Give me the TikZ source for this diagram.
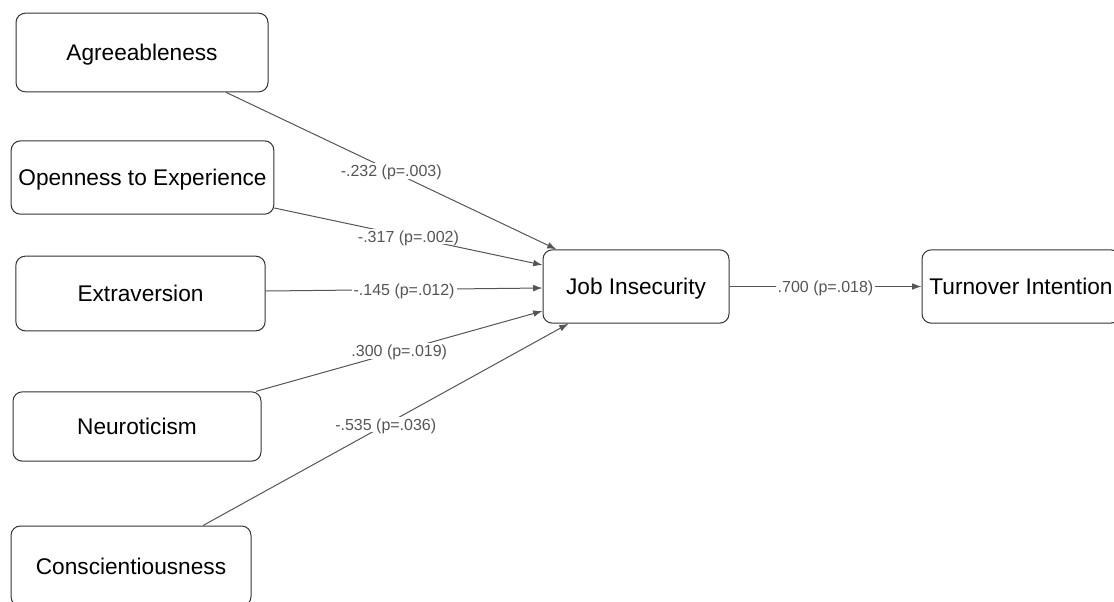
\documentclass[tikz,border=0pt]{standalone}
\usepackage{fontspec}
\setmainfont{Liberation Sans}
\usepackage{tikz}
\usetikzlibrary{arrows.meta, calc}
\usepackage{xcolor}
\definecolor{edgegray}{HTML}{555555}

\begin{document}
\begin{tikzpicture}[
    x=0.75pt,y=-0.75pt,>=Latex,
    factor/.style={draw=black!80,line width=0.75pt,rounded corners=7pt,
        inner sep=0pt,text height=12.2pt,text depth=0pt,
        font=\fontsize{17}{20}\selectfont},
    path/.style={->,draw=edgegray,line width=0.75pt,
        -{Latex[length=7pt,width=5pt]}},
    weight/.style={fill=white,inner sep=1.5pt,text=edgegray,
        text height=8.6pt,text depth=0pt,
        font=\fontsize{12}{14}\selectfont}
]
\useasboundingbox (0,0) rectangle (1114,601);
% Personality traits.
\node[factor,minimum width=189pt,minimum height=59pt] (agr) at (142,52.5) {Agreeableness};
\node[factor,minimum width=197pt,minimum height=55pt] (open) at (142.5,177.5) {Openness to Experience};
\node[factor,minimum width=187pt,minimum height=56pt] (extra) at (140.5,293.5) {Extraversion};
\node[factor,minimum width=186pt,minimum height=52pt] (neuro) at (137,426.5) {Neuroticism};
\node[factor,minimum width=180pt,minimum height=60pt] (consc) at (131,566) {Conscientiousness};
% Mediator and outcome.
\node[factor,minimum width=139.5pt,minimum height=55pt] (ji) at (636,286.5) {Job Insecurity};
\node[factor,minimum width=148.5pt,minimum height=55pt] (ti) at (1021,286.5) {Turnover Intention};
% Paths with estimates.
\draw[path] ($(agr.south)+(84,0)$) -- node[weight] {-.232 (p=.003)} ($(ji.north west)+(14,0)$);
\draw[path] ($(open.east)+(0,30.5)$) -- node[weight] {-.317 (p=.002)} ($(ji.west)+(0,-21.5)$);
\draw[path] ($(extra.east)+(0,-2.5)$) -- node[weight] {-.145 (p=.012)} ($(ji.west)+(0,1.5)$);
\draw[path] ($(neuro.north)+(119,0)$) -- node[weight] {.300 (p=.019)} ($(ji.west)+(0,24.5)$);
\draw[path] ($(consc.north)+(72,0)$) -- node[weight] {-.535 (p=.036)} ($(ji.south west)+(26,0)$);
\draw[path] (ji.east) -- node[weight] {.700 (p=.018)} (ti.west);
\end{tikzpicture}
\end{document}
